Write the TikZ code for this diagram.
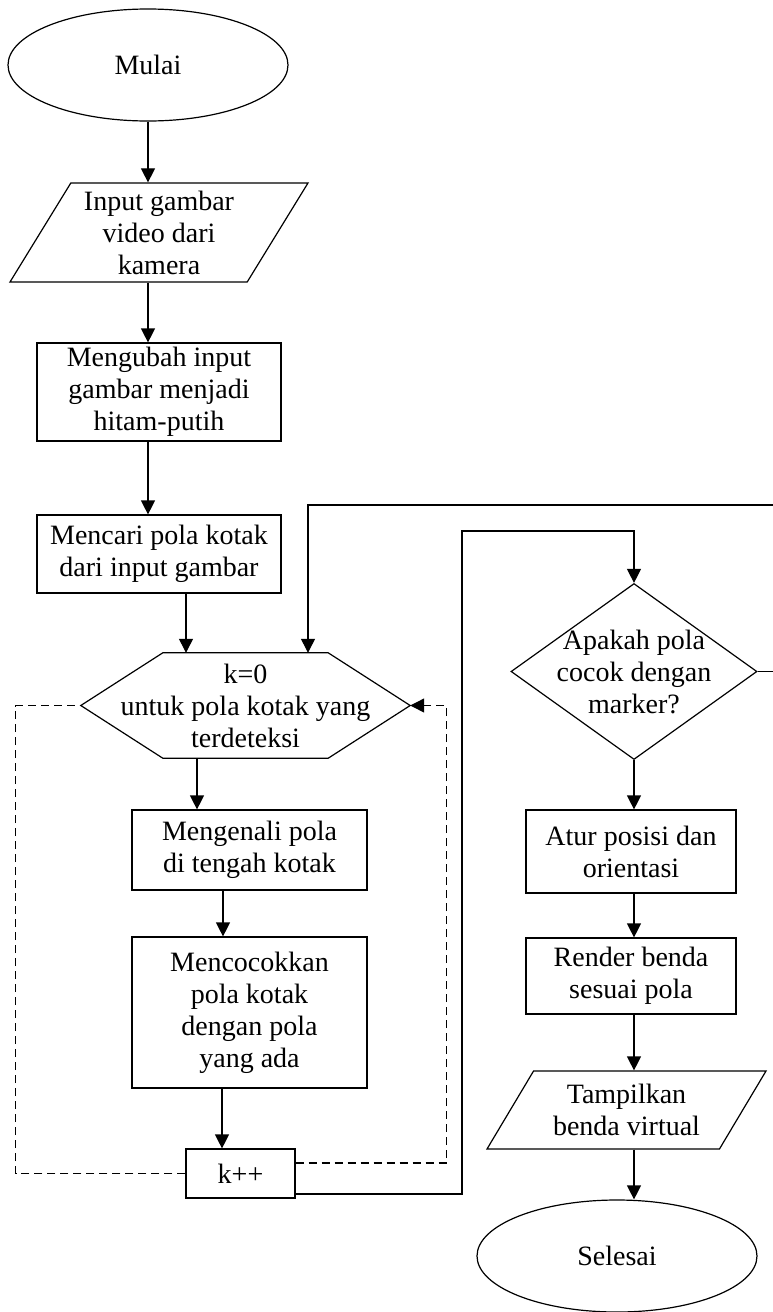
\documentclass[tikz,border=0pt]{standalone}
\usepackage{fontspec}
\setmainfont{Liberation Serif}
\usetikzlibrary{shapes.geometric, arrows.meta}

\begin{document}
\begin{tikzpicture}[
    x=1pt, y=-1pt,
    every node/.style={font=\fontsize{28}{32}\selectfont, align=center, inner sep=0pt},
    term/.style={ellipse, draw, line width=1.2pt, minimum width=280pt, minimum height=112pt},
    proc/.style={rectangle, draw, line width=1.2pt},
    io/.style={trapezium, draw, line width=1.2pt, trapezium stretches body},
    cond/.style={diamond, draw, line width=1.2pt, aspect=1.4, inner sep=-10pt, minimum width=246pt, minimum height=176pt},
    prep/.style={rectangle, minimum width=329pt, minimum height=105pt},
    arrow/.style={-{Triangle[length=14pt, width=14pt]}, line width=1.2pt},
    loopline/.style={line width=1.2pt, dash pattern=on 8pt off 5pt}
]
\clip (0,0) rectangle (773,1312);

\node[term] (mulai)     at (148, 65)    {Mulai};
\node[io, trapezium left angle=54, trapezium right angle=126, minimum width=298pt, minimum height=99pt]
                (input)     at (159, 232.5) {Input gambar\\video dari\\kamera};
\node[proc, minimum width=244pt, minimum height=98pt]
                (mengubah)  at (159, 392)   {Mengubah input\\gambar menjadi\\hitam-putih};
\node[proc, minimum width=244pt, minimum height=78pt]
                (mencari)   at (159, 554)   {Mencari pola kotak\\dari input gambar};

\node[prep]     (hex)       at (245.5, 705.5) {k=0\\untuk pola kotak yang\\terdeteksi};
\draw[line width=1.2pt] (hex.west) -- ([xshift=82pt]hex.north west) -- ([xshift=-82pt]hex.north east)
    -- (hex.east) -- ([xshift=-82pt]hex.south east) -- ([xshift=82pt]hex.south west) -- cycle;

\node[proc, minimum width=235pt, minimum height=80pt]
                (mengenali) at (249.5, 850)  {Mengenali pola\\di tengah kotak};
\node[proc, minimum width=235pt, minimum height=151pt]
                (mencocok)  at (249.5, 1012.5) {Mencocokkan\\pola kotak\\dengan pola\\yang ada};
\node[proc, minimum width=109pt, minimum height=49pt]
                (kpp)       at (240.5, 1173.5) {k++};

\node[cond]     (marker)    at (634, 671.5) {Apakah pola\\cocok dengan\\marker?};
\node[proc, minimum width=210pt, minimum height=83pt]
                (atur)      at (631, 851.5) {Atur posisi dan\\orientasi};
\node[proc, minimum width=210pt, minimum height=76pt]
                (render)    at (631, 976)   {Render benda\\sesuai pola};
\node[io, trapezium left angle=48, trapezium right angle=132, minimum width=279pt, minimum height=78pt]
                (tampil)    at (626.5, 1110) {Tampilkan\\benda virtual};
\node[term]     (selesai)   at (617, 1256)  {Selesai};

\coordinate (loopa) at (785, 505);
\coordinate (loopb) at (462, 531);

% Edges
\draw[arrow] (mulai.south) -- (mulai.south |- input.north);
\draw[arrow] (input.south -| mulai.south) -- (mengubah.north -| mulai.south);
\draw[arrow] (mengubah.south -| mulai.south) -- (mencari.north -| mulai.south);
\draw[arrow] ([xshift=27pt]mencari.south) -- ([xshift=27pt]mencari.south |- hex.north);
\draw[arrow] ([xshift=-52.5pt]mengenali.north |- hex.south) -- ([xshift=-52.5pt]mengenali.north);
\draw[arrow] ([xshift=-26.5pt]mengenali.south) -- ([xshift=-26.5pt]mencocok.north);
\draw[arrow] ([xshift=-18.5pt]kpp.north |- mencocok.south) -- ([xshift=-18.5pt]kpp.north);

% loop over detected squares
\draw[loopline] (kpp.west) -| ([xshift=-65pt]hex.west) -- (hex.west);
\draw[arrow, loopline] ([yshift=10.5pt]kpp.east) -- ++(151, 0) |- (hex.east);

\draw[arrow] ([yshift=-20.5pt]kpp.east) -| (loopb) -| (marker.north);
\draw[arrow] (marker.east) -| (loopa) -| ([xshift=62.5pt]hex.north);

\draw[arrow] (marker.south) -- (marker.south |- atur.north);
\draw[arrow] (atur.south -| marker.south) -- (render.north -| marker.south);
\draw[arrow] (render.south -| marker.south) -- (tampil.north -| marker.south);
\draw[arrow] (tampil.south -| marker.south) -- (selesai.north -| marker.south);

\end{tikzpicture}
\end{document}
